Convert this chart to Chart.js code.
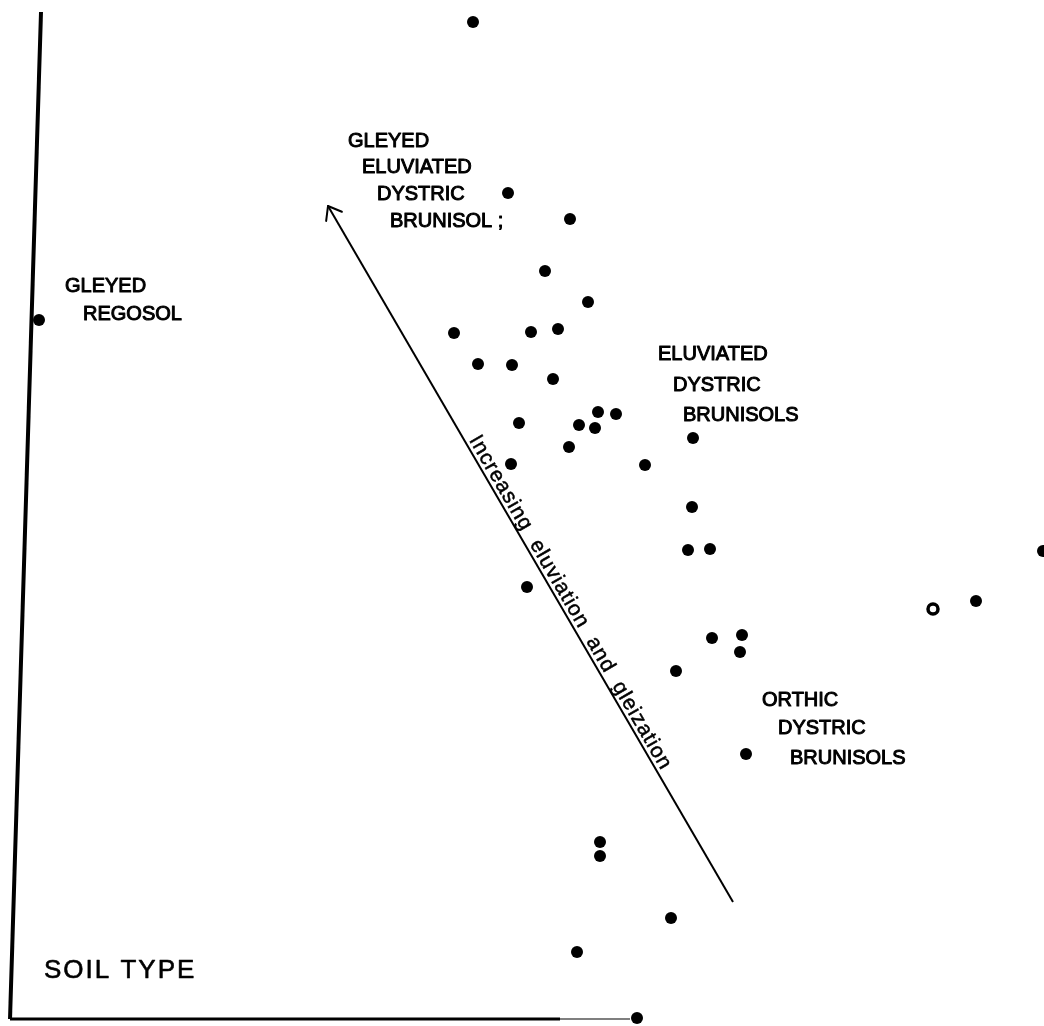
<!DOCTYPE html>
<html><head><meta charset="utf-8">
<script src="https://cdn.jsdelivr.net/npm/chart.js@4"></script>
<style>html,body{margin:0;padding:0;background:#fff}canvas{display:block}</style>
</head><body>
<canvas id="c" width="1044" height="1026"></canvas>
<script>
// Soil sites (arbitrary ordination units; no tick scale in the original)
const siteX = [46.3, 49.8, 56.0, 53.5, 57.8, 44.4, 52.1, 54.8, 46.8, 50.2, 54.3, 50.9, 56.9, 58.8, 60.6, 58.5, 55.9, 50.1, 63.5, 68.3, 68.2, 67.8, 70.0, 51.7, 103.3, 96.6, 70.2, 73.2, 73.0, 66.6, 73.6, 59.0, 59.0, 66.1, 56.7, 62.7, 2.9];
const siteY = [99.7, 82.6, 80.0, 74.8, 71.7, 68.6, 68.7, 69.0, 65.5, 65.4, 64.0, 59.6, 59.4, 60.7, 60.5, 59.1, 57.2, 55.5, 55.4, 58.1, 51.2, 46.9, 47.0, 43.2, 46.8, 41.8, 38.1, 38.4, 36.7, 34.8, 26.5, 17.7, 16.3, 10.1, 6.7, 0.1, 69.9];
const openSiteX = [92.3];
const openSiteY = [41.0];

// Group labels
const labelTexts = ["GLEYED", "REGOSOL",
  "GLEYED", "ELUVIATED", "DYSTRIC", "BRUNISOL ;",
  "ELUVIATED", "DYSTRIC", "BRUNISOLS",
  "ORTHIC", "DYSTRIC", "BRUNISOLS"];
const labelX = [5.5, 7.3, 33.8, 35.2, 36.7, 38.0, 64.8, 66.3, 67.3, 75.2, 76.8, 78.0];
const labelY = [72.75, 69.95, 87.2, 84.6, 81.9, 79.2, 65.9, 62.8, 59.8, 31.3, 28.5, 25.5];
const titleText = "SOIL TYPE";
const titleX = 3.4, titleY = 4.1;

// Trend arrow (tail -> head) and its caption
const arrowX = [72.3, 31.8];
const arrowY = [11.7, 81.3];
const arrowWords = ["Increasing", "eluviation", "and", "gleization"];

// Frame lines (hand-drawn axes)
const leftAxisX = [0, 3.1];
const leftAxisY = [0, 100.7];
const bottomAxisX = [0, 55];
const bottomAxisY = [0, 0];
const bottomFadeX = [55, 62];
const bottomFadeY = [0, 0];

const pts = (xs, ys) => xs.map((x, i) => ({x, y: ys[i]}));

const annotate = {
  id: 'annotate',
  afterDatasetsDraw(chart) {
    const ctx = chart.ctx, xs = chart.scales.x, ys = chart.scales.y;
    const px = v => xs.getPixelForValue(v), py = v => ys.getPixelForValue(v);
    ctx.save();
    ctx.fillStyle = '#000';
    ctx.strokeStyle = '#000';
    ctx.textAlign = 'left';
    ctx.textBaseline = 'alphabetic';
    ctx.lineJoin = 'round';
    // group labels
    ctx.font = '20px "Liberation Sans", Arial, sans-serif';
    ctx.lineWidth = 1.0;
    labelTexts.forEach((t, i) => {
      ctx.fillText(t, px(labelX[i]), py(labelY[i]));
      ctx.strokeText(t, px(labelX[i]), py(labelY[i]));
    });
    // title
    ctx.font = '26px "Liberation Sans", Arial, sans-serif';
    ctx.letterSpacing = '2px';
    ctx.lineWidth = 0.6;
    ctx.fillText(titleText, px(titleX), py(titleY));
    ctx.strokeText(titleText, px(titleX), py(titleY));
    ctx.letterSpacing = '0px';
    // arrow head
    const hx = px(arrowX[1]), hy = py(arrowY[1]);
    const tx = px(arrowX[0]), ty = py(arrowY[0]);
    const len = Math.hypot(tx - hx, ty - hy);
    const ux = (tx - hx) / len, uy = (ty - hy) / len;
    const ang = Math.atan2(uy, ux);
    ctx.lineWidth = 2;
    ctx.lineCap = 'round';
    [-0.65, 0.65].forEach(d => {
      ctx.beginPath();
      ctx.moveTo(hx, hy);
      ctx.lineTo(hx + 15 * Math.cos(ang + d), hy + 15 * Math.sin(ang + d));
      ctx.stroke();
    });
    // caption along arrow
    const nx = uy, ny = -ux;
    const startAlong = 273, offset = 4;
    ctx.save();
    ctx.translate(hx + ux * startAlong + nx * offset, hy + uy * startAlong + ny * offset);
    ctx.rotate(ang);
    ctx.font = '21px "Liberation Sans", Arial, sans-serif';
    ctx.letterSpacing = '1px';
    ctx.lineWidth = 0.5;
    const cap = arrowWords.join('  ');
    ctx.fillText(cap, 0, 0);
    ctx.strokeText(cap, 0, 0);
    ctx.restore();
    ctx.restore();
  }
};

new Chart(document.getElementById('c'), {
  type: 'scatter',
  data: {
    datasets: [
      { data: pts(siteX, siteY), pointRadius: 6, pointBackgroundColor: '#000', pointBorderWidth: 0, clip: false },
      { data: pts(openSiteX, openSiteY), pointRadius: 5, pointBackgroundColor: '#fff', pointBorderColor: '#000', pointBorderWidth: 3.5, clip: false },
      { type: 'line', data: pts(leftAxisX, leftAxisY), borderColor: '#000', borderWidth: 4, pointRadius: 0, clip: false },
      { type: 'line', data: pts(bottomAxisX, bottomAxisY), borderColor: '#000', borderWidth: 3, pointRadius: 0, clip: false },
      { type: 'line', data: pts(bottomFadeX, bottomFadeY), borderColor: '#555', borderWidth: 1.5, pointRadius: 0, clip: false },
      { type: 'line', data: pts(arrowX, arrowY), borderColor: '#000', borderWidth: 2, pointRadius: 0, clip: false }
    ]
  },
  options: {
    responsive: false,
    animation: false,
    devicePixelRatio: 1,
    layout: { autoPadding: false, padding: { left: 10, right: 0, top: 0, bottom: 7 } },
    plugins: { legend: { display: false }, tooltip: { enabled: false } },
    scales: {
      x: { type: 'linear', min: 0, max: 103.4, display: false },
      y: { type: 'linear', min: 0, max: 101.9, display: false }
    }
  },
  plugins: [annotate]
});
</script>
</body></html>
